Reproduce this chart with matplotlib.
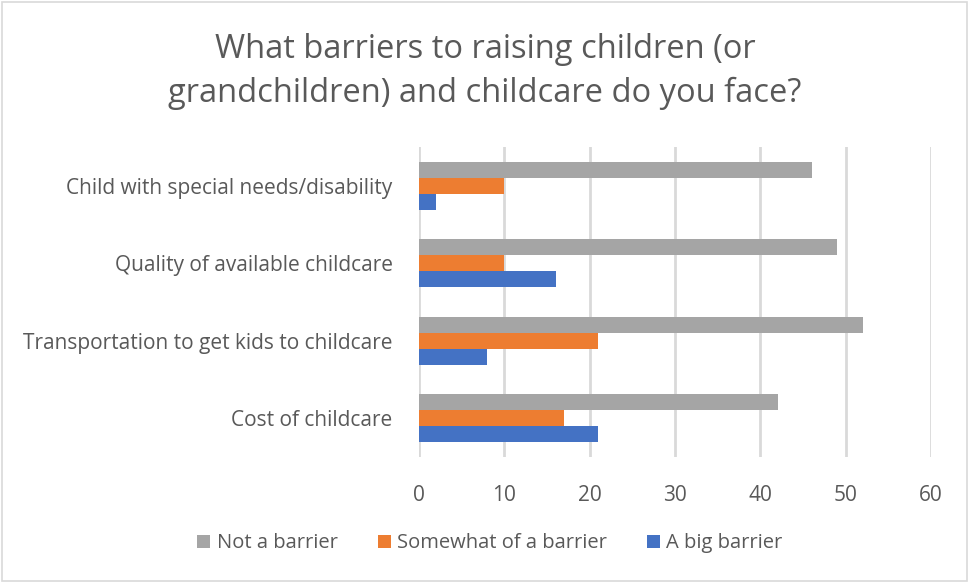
"""survey chart: barriers to raising children and childcare"""

import numpy as np
import matplotlib.pyplot as plt
from matplotlib.patches import Rectangle

plt.rcParams['font.family'] = ['Open Sans', 'DejaVu Sans']

categories = ['Cost of childcare',
              'Transportation to get kids to childcare',
              'Quality of available childcare',
              'Child with special needs/disability']
not_barrier = [42, 52, 49, 46]
somewhat_barrier = [17, 21, 10, 10]
big_barrier = [21, 8, 16, 2]
series_names = ['Not a barrier', 'Somewhat of a barrier', 'A big barrier']
xticks = [0, 10, 20, 30, 40, 50, 60]

txt = '#595959'
colors = ['#A5A5A5', '#ED7D31', '#4472C4']

fig = plt.figure(figsize=(9.70, 5.83), dpi=100)
ax = fig.add_axes([0.432, 0.216, 0.528, 0.532])

y = np.arange(len(categories))
h = 0.205
for vals, off, col, name in zip([not_barrier, somewhat_barrier, big_barrier],
                                [h, 0, -h], colors, series_names):
    ax.barh(y + off, vals, height=h, color=col, label=name, zorder=3)

ax.set_xlim(0, 60)
ax.set_ylim(-0.5, 3.5)
ax.set_xticks(xticks)
ax.set_yticks(y)
ax.set_yticklabels(categories)
ax.xaxis.grid(True, color='#d9d9d9', linewidth=2, zorder=0)
ax.tick_params(length=0, labelsize=15, colors=txt)
ax.tick_params(axis='x', pad=20)
ax.tick_params(axis='y', pad=19)
for s in ax.spines.values():
    s.set_visible(False)

fig.text(0.5, 0.877, 'What barriers to raising children (or\ngrandchildren) and childcare do you face?',
         ha='center', va='center', fontsize=23.5, color=txt, linespacing=1.42)

leg = fig.legend(loc='center', bbox_to_anchor=(0.505, 0.068), ncol=3, frameon=False,
                 fontsize=14.5, handlelength=0.65, handleheight=0.65, handletextpad=0.3,
                 columnspacing=2.0)
for t in leg.get_texts():
    t.set_color(txt)

# thin outer frame
fig.patches.append(Rectangle((0.002, 0.003), 0.995, 0.994, transform=fig.transFigure,
                             fill=False, edgecolor='#d9d9d9', linewidth=1.2))

plt.savefig('out.png', dpi=100)
